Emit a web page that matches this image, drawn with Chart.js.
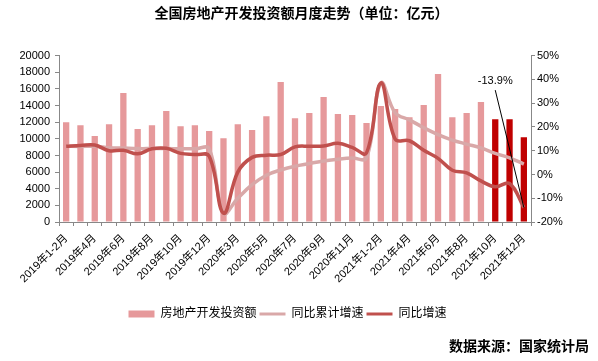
<!DOCTYPE html>
<html>
<head>
<meta charset="utf-8">
<script src="https://cdn.jsdelivr.net/npm/chart.js@4/dist/chart.umd.min.js"></script>
<style>
html,body{margin:0;padding:0;background:#fff;}
#c{display:block;}
</style>
</head>
<body>
<canvas id="c" width="598" height="361" style="width:598px;height:361px"></canvas>
<script>
// ---- data ----
const categories = [
  '2019年1-2月','2019年3月','2019年4月','2019年5月','2019年6月','2019年7月','2019年8月','2019年9月','2019年10月','2019年11月','2019年12月',
  '2020年1-2月','2020年3月','2020年4月','2020年5月','2020年6月','2020年7月','2020年8月','2020年9月','2020年10月','2020年11月','2020年12月',
  '2021年1-2月','2021年3月','2021年4月','2021年5月','2021年6月','2021年7月','2021年8月','2021年9月','2021年10月','2021年11月','2021年12月'
];
const investment = [
  12010, 11650, 10330, 11770, 15500, 11170, 11650, 13340, 11530, 11650, 10930,
  10080, 11770, 11050, 12730, 16830, 12490, 13100, 15020, 12980, 12860, 11900,
  13940, 13580, 12610, 14060, 17800, 12610, 13100, 14420, 12370, 12370, 10200
];
const cumulativeGrowth = [
  11.9, 11.8, 11.9, 11.3, 11.1, 10.9, 10.9, 10.9, 10.8, 10.8, 10.8,
  -16.3, -10.0, -4.3, -0.3, 1.9, 3.5, 4.6, 5.7, 6.4, 6.9, 7.0,
  38.5, 26.0, 23.0, 19.7, 16.8, 14.5, 12.8, 11.2, 8.9, 7.0, 4.4
];
const monthlyGrowth = [
  11.9, 12.2, 12.4, 10.0, 10.2, 8.7, 10.8, 11.0, 8.9, 8.4, 7.7,
  -16.3, 1.0, 7.2, 8.1, 8.4, 11.6, 11.9, 12.0, 13.1, 11.4, 9.1,
  38.5, 14.9, 14.2, 10.2, 6.8, 1.8, 0.7, -2.7, -5.2, -3.8, -13.9
];
const seriesNames = ['房地产开发投资额', '同比累计增速', '同比增速'];
const leftAxis = { min: 0, max: 20000, step: 2000 };
const rightAxis = { min: -20, max: 50, step: 10 };
const highlightFrom = '2021年10月';
const callout = { category: '2021年12月', labelCategory: '2021年10月', labelValue: 39.3 };
const titleText = '全国房地产开发投资额月度走势（单位：亿元）';
const sourceText = '数据来源：国家统计局';

// ---- styles ----
const BAR = '#e6999b', BAR_HI = '#c00000', LIGHT = '#d9a8a8', DARK = '#c0504d';
const FONT = '"Liberation Sans", Arial, "Noto Sans CJK SC", sans-serif';
Chart.defaults.font.family = FONT;
Chart.defaults.color = '#000';

const hiIndex = categories.indexOf(highlightFrom);

const layoutTweak = {
  id: 'layoutTweak',
  afterLayout(chart) {
    if (chart.legend) { chart.legend.left -= 7; chart.legend.right -= 7; }
    if (chart.titleBlock) { chart.titleBlock.left += 7; chart.titleBlock.right += 7; }
  }
};

const calloutPlugin = {
  id: 'callout',
  afterDatasetsDraw(chart) {
    const xs = chart.scales.x, ys = chart.scales.y1, ctx = chart.ctx;
    const i = categories.indexOf(callout.category);
    const v = monthlyGrowth[i];
    const px = xs.getPixelForValue(i), py = ys.getPixelForValue(v);
    const lx = xs.getPixelForValue(categories.indexOf(callout.labelCategory));
    const ly = ys.getPixelForValue(callout.labelValue);
    ctx.save();
    ctx.strokeStyle = '#000';
    ctx.lineWidth = 1;
    ctx.beginPath();
    ctx.moveTo(lx, ly + 9);
    ctx.lineTo(px, py);
    ctx.stroke();
    ctx.fillStyle = '#000';
    ctx.font = '11px ' + FONT;
    ctx.textAlign = 'center';
    ctx.textBaseline = 'middle';
    ctx.fillText(v.toFixed(1) + '%', lx, ly);
    ctx.restore();
  }
};

new Chart(document.getElementById('c'), {
  data: {
    labels: categories,
    datasets: [
      {
        type: 'bar', label: seriesNames[0], data: investment, yAxisID: 'y', order: 3,
        backgroundColor: (c) => (c.dataIndex >= hiIndex ? BAR_HI : BAR),
        barPercentage: 0.44, categoryPercentage: 1.0,
        legendColor: BAR
      },
      {
        type: 'line', label: seriesNames[1], data: cumulativeGrowth, yAxisID: 'y1', order: 2,
        borderColor: LIGHT, backgroundColor: LIGHT, borderWidth: 3.5, pointRadius: 0, tension: 0.4,
        legendColor: LIGHT
      },
      {
        type: 'line', label: seriesNames[2], data: monthlyGrowth, yAxisID: 'y1', order: 1,
        borderColor: DARK, backgroundColor: DARK, borderWidth: 3.5, pointRadius: 0, tension: 0.4,
        legendColor: DARK
      }
    ]
  },
  options: {
    responsive: false,
    animation: false,
    events: [],
    layout: { padding: { left: 0, right: 9, top: 0, bottom: 0 } },
    plugins: {
      tooltip: { enabled: false },
      title: {
        display: true, text: titleText, color: '#000',
        font: { size: 14, weight: 'bold', family: FONT },
        padding: { top: 5.6, bottom: 33.3 }
      },
      subtitle: {
        display: true, text: sourceText, position: 'bottom', align: 'end', color: '#000',
        font: { size: 14, weight: 'bold', family: FONT },
        padding: { top: 9.6, bottom: 5.6 }
      },
      legend: {
        display: true, position: 'bottom', maxHeight: 24,
        labels: {
          font: { size: 12, family: FONT }, color: '#000',
          boxWidth: 26, boxHeight: 7, usePointStyle: true, pointStyleWidth: 26, padding: 3,
          generateLabels(chart) {
            return chart.data.datasets.map((ds, i) => ({
              text: ds.label,
              fillStyle: ds.legendColor,
              strokeStyle: ds.legendColor,
              lineWidth: ds.type === 'line' ? 3 : 0,
              pointStyle: ds.type === 'line' ? 'line' : 'rect',
              fontColor: '#000',
              hidden: false,
              datasetIndex: i
            }));
          }
        }
      }
    },
    scales: {
      x: {
        position: 'bottom',
        grid: { display: true, drawOnChartArea: false, drawTicks: true, tickLength: 4, color: '#888', offset: true },
        border: { display: true, color: '#888', width: 1 },
        ticks: {
          autoSkip: false, minRotation: 45, maxRotation: 45, padding: 6,
          font: { size: 11, family: FONT }, color: '#000',
          callback(v, i) { return i % 2 === 0 ? categories[i] : ''; }
        },
        afterFit(s) { s.height = 83; }
      },
      y: {
        position: 'left', min: leftAxis.min, max: leftAxis.max,
        grid: { display: true, drawOnChartArea: false, drawTicks: true, tickLength: 4, color: '#888' },
        border: { display: true, color: '#888', width: 1 },
        ticks: { stepSize: leftAxis.step, padding: 5, font: { size: 11, family: FONT }, color: '#000',
          callback(v) { return String(v); } },
        afterFit(s) { s.width = 59; }
      },
      y1: {
        position: 'right', min: rightAxis.min, max: rightAxis.max,
        grid: { display: true, drawOnChartArea: false, drawTicks: true, tickLength: 4, color: '#888' },
        border: { display: true, color: '#888', width: 1 },
        ticks: { stepSize: rightAxis.step, padding: 2, font: { size: 11, family: FONT }, color: '#000',
          callback(v) { return v + '%'; } },
        afterFit(s) { s.width = 58; }
      }
    }
  },
  plugins: [layoutTweak, calloutPlugin]
});
</script>
</body>
</html>
